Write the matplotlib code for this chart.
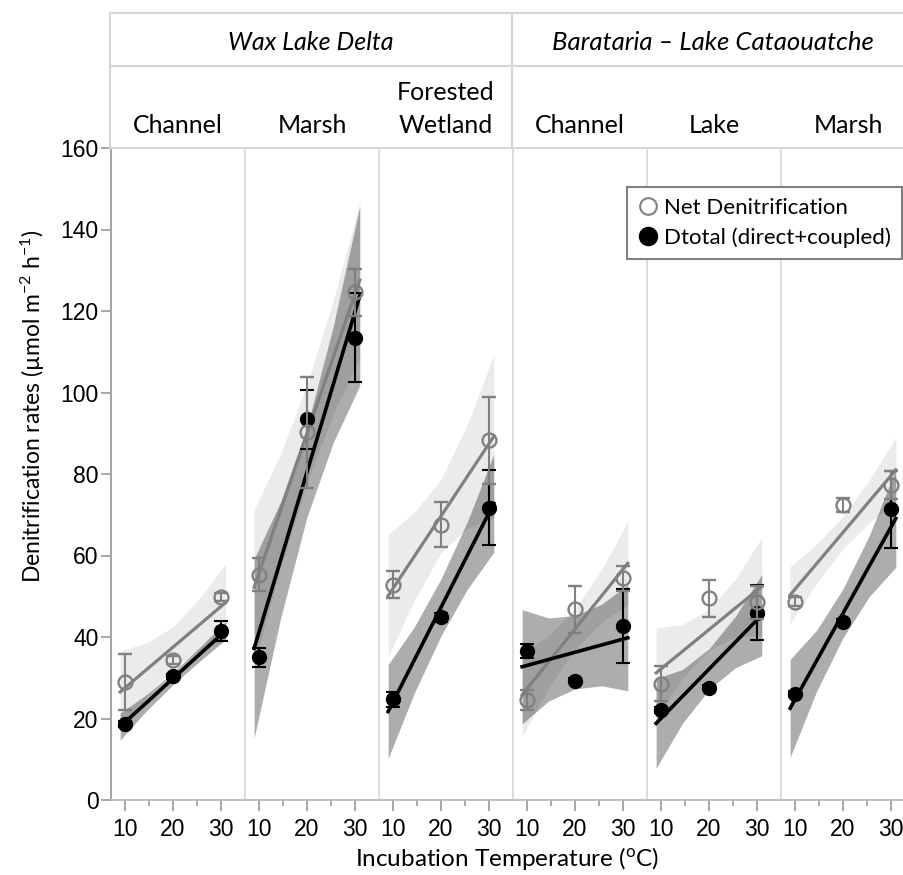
import numpy as np
import matplotlib
matplotlib.use('Agg')
import matplotlib.pyplot as plt
from matplotlib.lines import Line2D

plt.rcParams['font.family'] = ['Lato', 'DejaVu Sans']
plt.rcParams['mathtext.fontset'] = 'custom'
plt.rcParams['mathtext.rm'] = 'Lato'
plt.rcParams['mathtext.it'] = 'Lato:italic'

# data
temps = [10, 20, 30]
regions = ['Wax Lake Delta', 'Barataria \u2013 Lake Cataouatche']
panels = ['Channel', 'Marsh', 'Forested\nWetland', 'Channel', 'Lake', 'Marsh']

net_mean = [[29.0, 34.4, 49.8], [55.3, 90.2, 124.6], [52.8, 67.6, 88.3],
            [24.5, 46.8, 54.4], [28.5, 49.5, 48.5], [48.7, 72.4, 77.3]]
net_err = [[6.9, 1.0, 1.0], [4.1, 13.6, 5.8], [3.3, 5.5, 10.7],
           [2.5, 5.7, 3.0], [4.3, 4.6, 4.0], [1.0, 1.8, 3.4]]
dt_mean = [[18.6, 30.4, 41.5], [35.0, 93.4, 113.4], [24.7, 44.8, 71.7],
           [36.6, 29.3, 42.8], [22.1, 27.6, 46.0], [26.0, 43.8, 71.3]]
dt_err = [[0.8, 0.6, 2.4], [2.3, 7.2, 10.9], [1.9, 1.2, 9.2],
          [1.8, 0.6, 9.1], [0.8, 0.6, 6.7], [0.8, 0.6, 9.5]]

# fitted lines (value at start / end of fit range)
fit_x = [9, 31]
net_fit = [[26.5, 48.5], [52.2, 127.6], [50.1, 89.2], [25.8, 58.1], [31.2, 52.4], [50.3, 81.0]]
dt_fit = [[18.0, 41.6], [37.2, 123.7], [21.7, 72.8], [32.7, 39.8], [18.8, 45.4], [22.5, 69.1]]

# confidence band half widths
band_x = [9, 14.5, 20, 25.5, 31]
net_hw = [[10, 6.6, 5, 6.4, 9.5], [19, 13.9, 12, 13.9, 19], [15, 10.8, 9, 12.7, 20],
          [10.3, 6.4, 5, 6.4, 10.2], [11, 6.6, 5, 7.1, 12], [7, 4.8, 4, 5.2, 8]]
dt_hw = [[3.3, 2.0, 1.5, 1.7, 2.2], [22, 14.3, 11, 14.3, 22], [11.5, 8.1, 7, 8.3, 12],
         [14, 10.2, 9, 10.0, 13], [11, 6.6, 5, 6.3, 10], [12, 7.5, 6, 7.5, 12]]

W, H = 904, 875
fig = plt.figure(figsize=(W / 100, H / 100), dpi=100)

def fx(px):
    return px / W

def fy(py):
    return 1 - py / H

gray = '#808080'
tick_font = 'Liberation Sans'

for i in range(6):
    left = 111 + 134 * i
    ax = fig.add_axes([fx(left), fy(800), 134 / W, 652 / H])
    ax.set_xlim(7.1, 35.0)
    ax.set_ylim(0, 160)

    bx = np.array(band_x)
    nl = np.interp(bx, fit_x, net_fit[i])
    dl = np.interp(bx, fit_x, dt_fit[i])
    ax.fill_between(bx, nl - net_hw[i], nl + net_hw[i], color='black', alpha=0.08, lw=0, zorder=1)
    ax.fill_between(bx, dl - dt_hw[i], dl + dt_hw[i], color='black', alpha=0.32, lw=0, zorder=2)
    ax.plot(fit_x, net_fit[i], color=gray, lw=2.3, zorder=3)
    ax.plot(fit_x, dt_fit[i], color='black', lw=2.6, zorder=4)

    ax.errorbar(temps, dt_mean[i], yerr=dt_err[i], fmt='o', color='black', ms=10,
                elinewidth=1.5, capsize=4.8, capthick=1.5, zorder=5)
    ax.errorbar(temps, net_mean[i], yerr=net_err[i], fmt='o', color=gray, mfc='none',
                mec=gray, mew=1.7, ms=10, elinewidth=1.5, capsize=4.8, capthick=1.5, zorder=6)

    for s in ['top', 'right']:
        ax.spines[s].set_visible(False)
    ax.spines['bottom'].set_color('#bdbdbd')
    ax.spines['bottom'].set_linewidth(1.3)
    if i == 0:
        ax.spines['left'].set_color('#a6a6a6')
        ax.spines['left'].set_linewidth(1.5)
        ax.set_yticks(range(0, 161, 20))
        ax.tick_params(axis='y', length=7, width=1.2, color='#999999', labelsize=16.5, pad=2)
        for lb in ax.get_yticklabels():
            lb.set_fontfamily(tick_font)
    else:
        ax.spines['left'].set_color('#dadada')
        ax.spines['left'].set_linewidth(1.3)
        ax.tick_params(axis='y', left=False, labelleft=False)

    ax.set_xticks(temps)
    ax.set_xticks([15, 25], minor=True)
    ax.tick_params(axis='x', which='major', length=8, width=1.2, color='#999999',
                   labelsize=16.5, pad=5)
    ax.tick_params(axis='x', which='minor', length=4, width=1.2, color='#999999')
    for lb in ax.get_xticklabels():
        lb.set_fontfamily(tick_font)
    ax.patch.set_visible(False)

# header strips
hx = fig.add_axes([fx(110), fy(148), (915 - 110) / W, (148 - 13) / H])
hx.set_xlim(110, 915)
hx.set_ylim(148, 13)
hx.axis('off')
lc = '#d6d6d6'
for yy in [13, 66, 148]:
    hx.plot([110, 915], [yy, yy], color=lc, lw=1.5, clip_on=False)
for xx in [110, 512]:
    hx.plot([xx, xx], [13, 148], color=lc, lw=1.5, clip_on=False)
hx.text(311, 42, regions[0], ha='center', va='center', fontsize=18, style='italic')
hx.text(713, 42, regions[1], ha='center', va='center', fontsize=18.5, style='italic')
for i, name in enumerate(panels):
    hx.text(111 + 134 * i + 67, 133, name, ha='center', va='baseline', fontsize=18,
            linespacing=1.55)

fig.text(fx(33), fy(406), 'Denitrification rates (\u00b5mol m$^{\\mathrm{-2}}$ h$^{\\mathrm{-1}}$)',
         rotation=90, ha='center', va='center', fontsize=16.5)
fig.text(fx(507), fy(858), 'Incubation Temperature ($^{\\mathrm{o}}$C)',
         ha='center', va='center', fontsize=17.5)

handles = [Line2D([], [], marker='o', ls='none', mfc='white', mec=gray, mew=1.5, ms=12),
           Line2D([], [], marker='o', ls='none', mfc='black', mec='black', ms=13)]
leg = fig.legend(handles, ['Net Denitrification', 'Dtotal (direct+coupled)'],
                 loc='upper right', bbox_to_anchor=(fx(902), fy(187)), frameon=True,
                 fancybox=False, edgecolor=gray, framealpha=1, fontsize=16,
                 handlelength=0.9, handletextpad=0.25, borderpad=0.5, labelspacing=0.4,
                 borderaxespad=0)
leg.get_frame().set_linewidth(1.5)

fig.savefig('out.png', dpi=100)
